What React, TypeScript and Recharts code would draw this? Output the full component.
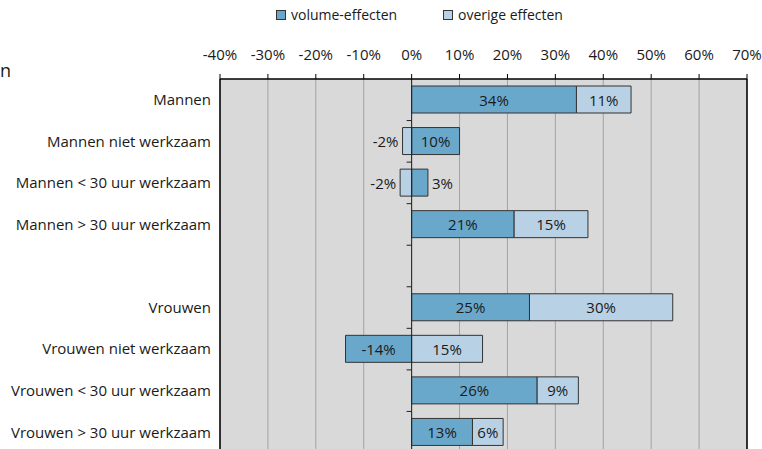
import React from 'react';
import * as R from 'recharts';
import { BarChart, Bar, XAxis, YAxis, CartesianGrid, ReferenceLine, LabelList, Legend } from 'recharts';

const categories = [
  'Mannen',
  'Mannen niet werkzaam',
  'Mannen < 30 uur werkzaam',
  'Mannen > 30 uur werkzaam',
  ' ',
  'Vrouwen',
  'Vrouwen niet werkzaam',
  'Vrouwen < 30 uur werkzaam',
  'Vrouwen > 30 uur werkzaam',
];
const volumeEffecten = [34.4, 10, 3.4, 21.4, null, 24.6, -13.8, 26.2, 12.7];
const overigeEffecten = [11.4, -1.9, -2.4, 15.4, null, 29.9, 14.8, 8.6, 6.4];
const xTicks = [-40, -30, -20, -10, 0, 10, 20, 30, 40, 50, 60, 70];
const seriesNames = ['volume-effecten', 'overige effecten'];

const data = categories.map((name, i) => ({
  name,
  volume: volumeEffecten[i],
  overige: overigeEffecten[i],
}));

const FONT = '"Open Sans", sans-serif';
const DARK = '#6aa8cb';
const LIGHT = '#b9d1e4';
const TEXT = '#1a1a1a';

const renderLabel = (props: any) => {
  const v = props.value;
  if (v == null) return null;
  const vb = props.viewBox || {};
  const x = vb.x ?? props.x;
  const y = vb.y ?? props.y;
  const w = vb.width ?? props.width;
  const h = vb.height ?? props.height;
  const left = Math.min(x, x + w);
  const aw = Math.abs(w);
  const cy = y + h / 2;
  const txt = `${Math.round(v)}%`;
  const common = { y: cy, dominantBaseline: 'central' as const, fontSize: 15, fontFamily: FONT, fill: TEXT };
  if (aw < 28) {
    if (v < 0) return <text x={left - 4} textAnchor="end" {...common}>{txt}</text>;
    return <text x={left + aw + 4} textAnchor="start" {...common}>{txt}</text>;
  }
  return <text x={left + aw / 2} textAnchor="middle" {...common}>{txt}</text>;
};

const renderLegend = () => (
  <div style={{ display: 'flex', fontFamily: FONT, fontSize: 14, color: TEXT, lineHeight: '20px' }}>
    {seriesNames.map((n, i) => (
      <div key={n} style={{ width: 167, display: 'flex', alignItems: 'center' }}>
        <span style={{ display: 'inline-block', width: 8, height: 8, border: '1px solid #333', background: i === 0 ? DARK : LIGHT, marginRight: 5 }} />
        <span>{n}</span>
      </div>
    ))}
  </div>
);

function ZeroTicks() {
  const anyR = R as any;
  const plot = anyR.usePlotArea ? anyR.usePlotArea() : null;
  if (!plot) return null;
  const n = categories.length;
  const x0 = plot.x + ((0 - xTicks[0]) / (xTicks[xTicks.length - 1] - xTicks[0])) * plot.width;
  const lines = [];
  for (let k = 1; k <= n; k++) {
    const yy = plot.y + (k * plot.height) / n;
    lines.push(<line key={k} x1={x0 - 5} x2={x0} y1={yy} y2={yy} stroke="#222" strokeWidth={1} />);
  }
  return <g>{lines}</g>;
}

export default function App() {
  return (
    <div style={{ position: 'absolute', left: 0, top: 0, width: 762, height: 449, overflow: 'hidden', background: '#fff' }}>
      <div style={{ position: 'absolute', left: 0, top: 60, fontFamily: FONT, fontSize: 18, lineHeight: '20px', color: TEXT }}>n</div>
      <BarChart
        width={762}
        height={470}
        data={data}
        layout="vertical"
        stackOffset="sign"
        margin={{ top: 49, right: 15, left: 0, bottom: 17 }}
      >
        <CartesianGrid horizontal={false} vertical={true} fill="#d9d9d9" stroke="#a3a3a3" fillOpacity={1} />
        <XAxis
          type="number"
          orientation="top"
          domain={[xTicks[0], xTicks[xTicks.length - 1]]}
          ticks={xTicks}
          interval={0}
          height={30}
          tickFormatter={(v: number) => `${v}%`}
          axisLine={{ stroke: '#000', strokeWidth: 1.5 }}
          tickLine={{ stroke: '#000' }}
          tickSize={5}
          tickMargin={14}
          tick={{ fontSize: 15, fontFamily: FONT, fill: TEXT }}
        />
        <YAxis
          type="category"
          dataKey="name"
          width={220}
          axisLine={false}
          tickLine={false}
          tickSize={0}
          tickMargin={9}
          interval={0}
          tick={{ fontSize: 15, fontFamily: FONT, fill: TEXT }}
        />
        <ReferenceLine x={xTicks[0]} stroke="#000" strokeWidth={1.5} />
        <ReferenceLine x={xTicks[xTicks.length - 1]} stroke="#000" strokeWidth={1.5} />
        <ReferenceLine x={0} stroke="#222" strokeWidth={1} />
        <Bar dataKey="volume" name={seriesNames[0]} stackId="a" fill={DARK} stroke="#333" strokeWidth={1} barSize={27} isAnimationActive={false}>
          <LabelList dataKey="volume" content={renderLabel} />
        </Bar>
        <Bar dataKey="overige" name={seriesNames[1]} stackId="a" fill={LIGHT} stroke="#333" strokeWidth={1} barSize={27} isAnimationActive={false}>
          <LabelList dataKey="overige" content={renderLabel} />
        </Bar>
        <Legend
          layout="horizontal"
          verticalAlign="middle"
          align="center"
          content={renderLegend}
          wrapperStyle={{ top: 5, left: 276, width: 340, height: 20 }}
        />
        <ZeroTicks />
      </BarChart>
    </div>
  );
}
